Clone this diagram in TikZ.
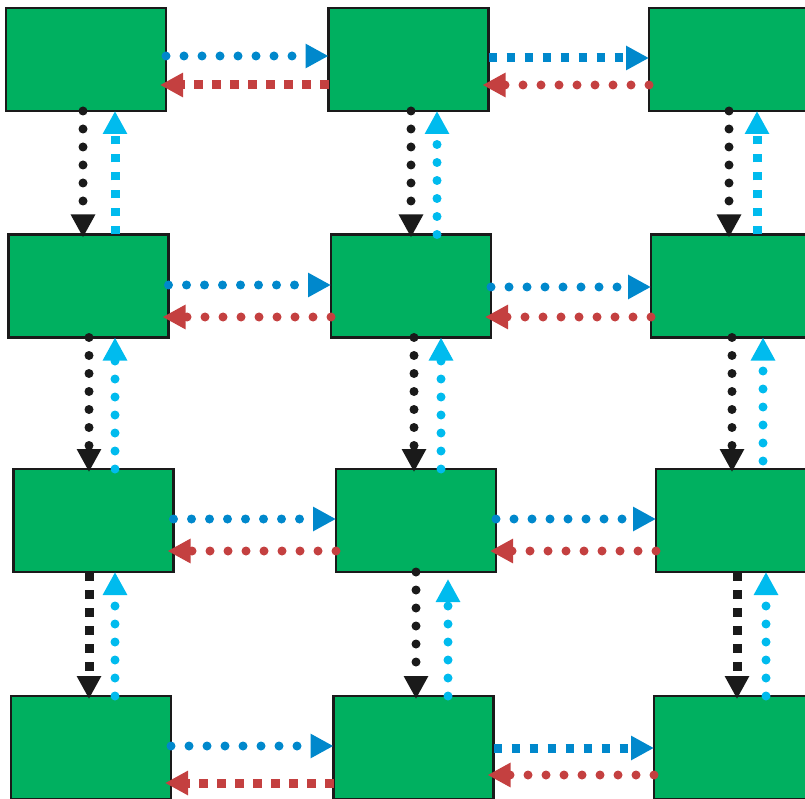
\documentclass[tikz,border=0pt]{standalone}
\usepackage{tikz}
\usetikzlibrary{arrows.meta,positioning}
\definecolor{cellgreen}{RGB}{0,176,96}
\definecolor{cellblue}{RGB}{0,136,204}
\definecolor{cellred}{RGB}{196,64,64}
\definecolor{cellcyan}{RGB}{0,187,238}
\definecolor{cellblack}{RGB}{26,26,26}

\begin{document}
\begin{tikzpicture}[
  x=1pt,y=-1pt,
  cell/.style={draw=cellblack,line width=2.5pt,fill=cellgreen,minimum width=160pt,minimum height=103pt,inner sep=0pt,outer sep=0pt},
  dotline/.style={line width=9pt,line cap=round,dash pattern=on 0pt off 18pt,-{Triangle[length=23pt,width=23pt]}},
  sqline/.style={line width=9pt,line cap=butt,dash pattern=on 8.5pt off 9.5pt,-{Triangle[length=23pt,width=23pt]}},
  back/.style={shorten >=-6pt},
  down/.style={shorten >=-3pt}
]
\useasboundingbox (0,0) rectangle (805,799);
\clip (0,0) rectangle (805,799);
% grid of cells
\node[cell] (r1c1) at (86,59.5) {};
\node[cell] (r1c2) at (408.5,59.5) {};
\node[cell] (r1c3) at (729,59.5) {};
\node[cell] (r2c1) at (88.5,286) {};
\node[cell] (r2c2) at (411,286) {};
\node[cell] (r2c3) at (731,286) {};
\node[cell] (r3c1) at (93.5,520.5) {};
\node[cell] (r3c2) at (416,520.5) {};
\node[cell] (r3c3) at (736,520.5) {};
\node[cell] (r4c1) at (91,747.5) {};
\node[cell] (r4c2) at (413.5,747.5) {};
\node[cell] (r4c3) at (734,747.5) {};
% row 1
\draw[dotline,cellblue] ([yshift=3.5pt]r1c1.east) -- ([yshift=3.5pt]r1c1.east -| r1c2.west);
\draw[sqline,back,cellred] ([yshift=-25.5pt]r1c2.west) -- ([yshift=-25.5pt]r1c2.west -| r1c1.east);
\draw[sqline,cellblue] ([yshift=1.5pt]r1c2.east) -- ([yshift=1.5pt]r1c2.east -| r1c3.west);
\draw[dotline,back,cellred] ([yshift=-25.5pt]r1c3.west) -- ([yshift=-25.5pt]r1c3.west -| r1c2.east);
% row 2
\draw[dotline,cellblue] ([yshift=1pt]r2c1.east) -- ([yshift=1pt]r2c1.east -| r2c2.west);
\draw[dotline,back,cellred] ([yshift=-31pt]r2c2.west) -- ([yshift=-31pt]r2c2.west -| r2c1.east);
\draw[dotline,cellblue] ([yshift=-1pt]r2c2.east) -- ([yshift=-1pt]r2c2.east -| r2c3.west);
\draw[dotline,back,cellred] ([yshift=-31pt]r2c3.west) -- ([yshift=-31pt]r2c3.west -| r2c2.east);
% row 3
\draw[dotline,cellblue] ([yshift=1.5pt]r3c1.east) -- ([yshift=1.5pt]r3c1.east -| r3c2.west);
\draw[dotline,back,cellred] ([yshift=-30.5pt]r3c2.west) -- ([yshift=-30.5pt]r3c2.west -| r3c1.east);
\draw[dotline,cellblue] ([yshift=1.5pt]r3c2.east) -- ([yshift=1.5pt]r3c2.east -| r3c3.west);
\draw[dotline,back,cellred] ([yshift=-30.5pt]r3c3.west) -- ([yshift=-30.5pt]r3c3.west -| r3c2.east);
% row 4
\draw[dotline,cellblue] ([yshift=1.5pt]r4c1.east) -- ([yshift=1.5pt]r4c1.east -| r4c2.west);
\draw[sqline,back,cellred] ([yshift=-35.5pt]r4c2.west) -- ([yshift=-35.5pt]r4c2.west -| r4c1.east);
\draw[sqline,cellblue] ([yshift=-0.5pt]r4c2.east) -- ([yshift=-0.5pt]r4c2.east -| r4c3.west);
\draw[dotline,back,cellred] ([yshift=-27.5pt]r4c3.west) -- ([yshift=-27.5pt]r4c3.west -| r4c2.east);
% rows 1 and 2
\draw[dotline,down,cellblack] ([xshift=-3pt]r1c1.south) -- ([xshift=-3pt]r1c1.south |- r2c1.north);
\draw[sqline,cellcyan] ([xshift=29pt]r1c1.south |- r2c1.north) -- ([xshift=29pt]r1c1.south);
\draw[dotline,down,cellblack] ([xshift=2.5pt]r1c2.south) -- ([xshift=2.5pt]r1c2.south |- r2c2.north);
\draw[dotline,cellcyan] ([xshift=28.5pt]r1c2.south |- r2c2.north) -- ([xshift=28.5pt]r1c2.south);
\draw[dotline,down,cellblack] (r1c3.south) -- (r1c3.south |- r2c3.north);
\draw[sqline,cellcyan] ([xshift=28pt]r1c3.south |- r2c3.north) -- ([xshift=28pt]r1c3.south);
% rows 2 and 3
\draw[dotline,down,cellblack] ([xshift=0.5pt]r2c1.south) -- ([xshift=0.5pt]r2c1.south |- r3c1.north);
\draw[dotline,cellcyan] ([xshift=26.5pt]r2c1.south |- r3c1.north) -- ([xshift=26.5pt]r2c1.south);
\draw[dotline,down,cellblack] ([xshift=3pt]r2c2.south) -- ([xshift=3pt]r2c2.south |- r3c2.north);
\draw[dotline,cellcyan] ([xshift=30pt]r2c2.south |- r3c2.north) -- ([xshift=30pt]r2c2.south);
\draw[dotline,down,cellblack] ([xshift=1pt]r2c3.south) -- ([xshift=1pt]r2c3.south |- r3c3.north);
\draw[dotline,cellcyan,shorten <=8pt] ([xshift=32pt]r2c3.south |- r3c3.north) -- ([xshift=32pt]r2c3.south);
% rows 3 and 4
\draw[sqline,down,cellblack] ([xshift=-4.5pt]r3c1.south) -- ([xshift=-4.5pt]r3c1.south |- r4c1.north);
\draw[dotline,cellcyan] ([xshift=21.5pt]r3c1.south |- r4c1.north) -- ([xshift=21.5pt]r3c1.south);
\draw[dotline,down,cellblack] (r3c2.south) -- (r3c2.south |- r4c2.north);
\draw[dotline,cellcyan,shorten >=7pt] ([xshift=32pt]r3c2.south |- r4c2.north) -- ([xshift=32pt]r3c2.south);
\draw[sqline,down,cellblack] ([xshift=1pt]r3c3.south) -- ([xshift=1pt]r3c3.south |- r4c3.north);
\draw[dotline,cellcyan] ([xshift=30pt]r3c3.south |- r4c3.north) -- ([xshift=30pt]r3c3.south);
\end{tikzpicture}
\end{document}
